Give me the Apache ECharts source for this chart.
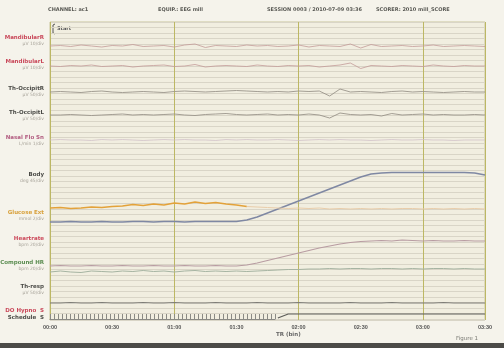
<!DOCTYPE html>
<html>
<head>
<meta charset="utf-8">
<script src="https://cdn.jsdelivr.net/npm/echarts@6/dist/echarts.min.js"></script>
<style>
  html, body { margin: 0; padding: 0; background: #f5f3eb; }
  #chart { width: 504px; height: 348px; }
</style>
</head>
<body>
<div id="chart"></div>
<script>
// time axis (minutes), one sample every 5 min
const timeLabels = ["00:00", "00:30", "01:00", "01:30", "02:00", "02:30", "03:00", "03:30"];
const sampleStep = 5;

const channelNames = ["MandibularR", "MandibularL", "Th-OccipitR", "Th-OccipitL", "Nasal Flo Sn",
  "Body", "Glucose Ext", "Heartrate", "Compound HR", "Th-resp", "DO Hypno  S", "Schedule  S"];
const channelUnits = ["µV 10/div", "µV 10/div", "µV 50/div", "µV 50/div", "L/min 1/div",
  "deg 45/div", "mmol 2/div", "bpm 20/div", "bpm 20/div", "µV 50/div", "", ""];
// trace baselines (axis units, counted from the top)
const channelOffsets = [24, 44, 70, 93, 118, 200, 186, 244, 250, 281, 292];

const emgRight = [0, 0.5, -0.5, 1, 0, -1, 0.5, 0, 1.5, -0.5,
  0, 0.5, -1, 1, 2, -1.5, 0.5, 0, -0.5, 1,
  0, 0.5, -0.5, 0, 1, -1, 0.5, 0, -0.5, 2,
  -2, 1.5, -0.5, 0, 0.5, -0.5, 0, 1, -0.5, 0,
  0.5, 0, -0.5];
const emgLeft = [0, -0.5, 0.5, 0, 1, -0.5, 0, 0.5, -1, 0,
  0.5, 1, -0.5, 0, 1.5, -1, 0, 0.5, 0, -0.5,
  1, 0, -0.5, 0.5, 0, 0.5, -1, 0, 1, 3,
  -2.5, 0.5, 0, -0.5, 0.5, 0, -0.5, 1, 0, -0.5,
  0.5, 0, 0];
const occipitRight = [0, 0.5, 0, -0.5, 0.5, 1, 0, -0.5, 0, 0.5,
  0, -0.5, 0.5, 1, 0.5, 0, 0.5, 1, 1.5, 1,
  0.5, 0, 0.5, 0, 1, 0.5, 1, -4, 3, 0,
  0.5, 0, -0.5, 0.5, 1, 0, 0.5, 0, -0.5, 0,
  0.5, 0, 0];
const occipitLeft = [0, 0, 0.5, 0, -0.5, 0, 0.5, 1, 0, 0.5,
  0, 0.5, 1, 0, -0.5, 0.5, 1, 1.5, 0.5, 0,
  0.5, 1, 0, 0.5, 0, 1, 0, -3, 2, 0.5,
  0, 0.5, -1, 1.5, 0, 0.5, 1, 0, 0.5, 0,
  0, 0.5, 0];
const nasalFlow = [0, 0.5, 0, 0, -0.5, 0.5, 0, 0.5, 0, -0.5,
  0, 0.5, 0, 0.5, 0, 0, -0.5, 0.5, 0, 0.5,
  0, 0, 0.5, 0, -0.5, 0, 0.5, 0, 0.5, 0,
  0, -0.5, 0, 0.5, 0, 0, 0.5, 0, 0, -0.5,
  0, 0, 0];
const bodyPos = [0, 0, 0.5, 0, 0, 0.5, 0, 0, 0.5, 0.5,
  0, 0.5, 0.5, 0, 0.5, 0.5, 0.5, 0.5, 0.5, 2,
  5, 9, 13, 17, 21, 25, 29, 33, 37, 41,
  45, 48, 49, 49.5, 49.5, 49.5, 49.5, 49.5, 49.5, 49.5,
  49.5, 49, 47];
const glucose = [0, 0.5, -0.5, 0, 1, 0.5, 1.5, 2, 3.5, 2.5,
  4, 3, 5, 4, 6, 4.5, 5.5, 4, 3, 1.5,
  1, 0.5, 0, -0.5, 0, -0.5, 0, -1, -0.5, -1,
  -0.5, -1, -0.5, -1, -0.5, -0.5, -1, -0.5, -1, -0.5,
  -1, -0.5, -1];
const heartRate = [0, 0.5, 0, 0, 0.5, 0, 0, 0.5, 0, 0,
  0.5, 0, 0, 0.5, 0, 0, 0.5, 0, 0, 1,
  3, 5.5, 8, 10.5, 13, 15.5, 18, 20, 22, 23.5,
  24.5, 25, 25.5, 25, 26, 25.5, 25, 25.5, 25, 25,
  25.5, 25, 25];
const compoundHR = [0, 1, 0, -0.5, 1, 0.5, 0, 1, 0.5, 1.5,
  0.5, 1, 0, 1, 1.5, 0.5, 1, 0.5, 1, 0.5,
  1, 1.5, 2, 2.5, 2.5, 3, 3, 3.5, 3, 3.5,
  3.5, 3, 3.5, 3.5, 3, 3.5, 3, 3.5, 3.5, 3,
  3.5, 3, 3];
const thResp = [0, 0, 0.5, 0, 0, 0.5, 0, 0, 0, 0.5,
  0, 0, 0.5, 0, 0, 0, 0.5, 0, 0, 0,
  0.5, 0, 0, 0, 0.5, 0, 0, 0, 0, 0.5,
  0, 0, 0, 0.5, 0, 0, 0, 0, 0.5, 0,
  0, 0, 0];
const hypno = [null, null, null, null, null, null, null, null, null, null,
  null, null, null, null, null, null, null, null, null, null,
  null, null, -4, 0, 0, 0, 0, 0, 0, 0,
  0, 0, 0, 0, 0, 0, 0, 0, 0, 0,
  0, 0, 0];

const traces = [emgRight, emgLeft, occipitRight, occipitLeft, nasalFlow, bodyPos,
  glucose, heartRate, compoundHR, thResp, hypno];
const traceColors = ["#c39a98", "#c39a98", "#9a948a", "#9a948a", "#cdbcc6", "#7f88a3",
  "#e3a23a", "#b89ca2", "#a6b4a2", "#7e7d77", "#5c5c58"];
const traceWidths = [0.8, 0.8, 0.9, 0.9, 0.7, 1.5, 1.6, 1.2, 1, 1.1, 1.2];
// the glucose trace fades after this sample
const glucoseFadeIndex = 19;

const labelColors = ["#c9485a", "#c9485a", "#4a4a46", "#4a4a46", "#b25c80", "#4a4a46",
  "#d8a03a", "#cc4a5c", "#5a8c50", "#4a4a46", "#c9485a", "#4a4a46"];
const labelY = [38, 62, 89, 113, 138, 175, 213, 239, 263, 287, 311, 318];

const chart = echarts.init(document.getElementById("chart"));

function toPoints(vals, i, from, to) {
  const out = [];
  for (let k = from; k < to; k++) {
    if (vals[k] != null) out.push([k * sampleStep, channelOffsets[i] - vals[k]]);
  }
  return out;
}

const series = traces.map((vals, i) => ({
  type: "line",
  xAxisIndex: 0,
  yAxisIndex: 0,
  symbol: "none",
  silent: true,
  lineStyle: { color: traceColors[i], width: traceWidths[i] },
  data: i === 6 ? toPoints(vals, i, 0, glucoseFadeIndex + 1) : toPoints(vals, i, 0, vals.length)
}));
series.push({
  type: "line", symbol: "none", silent: true,
  lineStyle: { color: "#e9cdaa", width: 1 },
  data: toPoints(glucose, 6, glucoseFadeIndex, glucose.length)
});

const graphic = [];
channelNames.forEach((name, i) => {
  graphic.push({
    type: "text", right: 460, top: labelY[i] - 3,
    style: { text: name, fill: labelColors[i], font: "bold 5.5px 'DejaVu Sans'", textAlign: "right" }
  });
  if (channelUnits[i]) {
    graphic.push({
      type: "text", right: 460, top: labelY[i] + 3.5,
      style: { text: channelUnits[i], fill: "#a8a49a", font: "4.5px 'DejaVu Sans'", textAlign: "right" }
    });
  }
});

const headers = [
  [48, "CHANNEL: ac1"],
  [158, "EQUIP.: EEG mill"],
  [267, "SESSION 0003 / 2010-07-09 03:36"],
  [376, "SCORER: 2010 mill_SCORE"]
];
headers.forEach(h => graphic.push({
  type: "text", left: h[0], top: 7,
  style: { text: h[1], fill: "#5a5a55", font: "bold 5px 'DejaVu Sans'" }
}));

graphic.push(
  { type: "polyline", shape: { points: [[55, 24], [53, 25], [53, 33], [55, 34]] },
    style: { stroke: "#555", lineWidth: 1, fill: null } },
  { type: "text", left: 57, top: 26, style: { text: "Start", fill: "#555", font: "bold 5px 'DejaVu Sans'" } },
  { type: "text", left: 276, top: 332, style: { text: "TR (bin)", fill: "#666", font: "bold 5.5px 'DejaVu Sans'" } },
  { type: "text", left: 456, top: 336, style: { text: "Figure 1", fill: "#7a7a74", font: "5.5px 'DejaVu Sans'" } },
  { type: "rect", shape: { x: 0, y: 343, width: 504, height: 5 }, style: { fill: "#4c4b47" } }
);

chart.setOption({
  animation: false,
  backgroundColor: "#f5f3eb",
  grid: [
    { left: 50, right: 19, top: 22, bottom: 28, show: true,
      backgroundColor: "#f1eee0", borderColor: "#c8c49a", borderWidth: 1 },
    { left: 50, top: 313, width: 225, height: 6 }
  ],
  xAxis: [
    {
      type: "value", gridIndex: 0, min: 0, max: 210, interval: 30,
      axisLine: { show: false }, axisTick: { show: false },
      splitLine: { show: false },
      axisLabel: {
        margin: 4, color: "#555", fontSize: 5.5, fontWeight: "bold",
        formatter: v => timeLabels[v / 30]
      }
    },
    {
      type: "value", gridIndex: 0, min: 0, max: 210, interval: 60, position: "top",
      axisLine: { show: false }, axisTick: { show: false }, axisLabel: { show: false },
      splitLine: { show: true, lineStyle: { color: "#bcb764", width: 1 } }
    },
    {
      type: "value", gridIndex: 1, min: 0, max: 56, interval: 1,
      axisLine: { show: true, lineStyle: { color: "#8a8a84", width: 1 } },
      axisTick: { show: true, inside: true, length: 5, lineStyle: { color: "#8a8a84" } },
      axisLabel: { show: false }, splitLine: { show: false }
    }
  ],
  yAxis: [
    {
      type: "value", gridIndex: 0, min: 0, max: 298, interval: 5.5, inverse: true,
      axisLine: { show: false }, axisTick: { show: false }, axisLabel: { show: false },
      splitLine: { show: true, lineStyle: { color: "#d9d5c7", width: 1 } }
    },
    { type: "value", gridIndex: 1, show: false }
  ],
  series: series,
  graphic: graphic
});
</script>
</body>
</html>
